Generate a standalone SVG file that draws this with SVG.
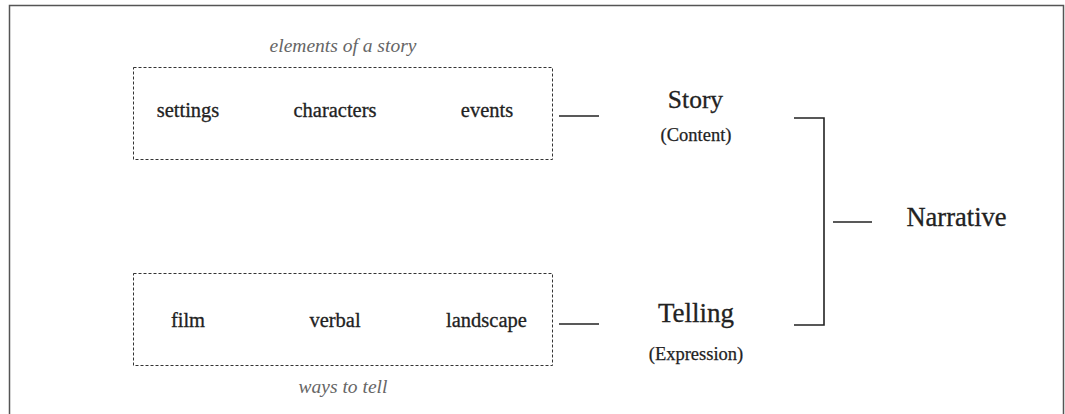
<svg xmlns="http://www.w3.org/2000/svg" width="1065" height="414" viewBox="0 0 1065 414">
  <style>
    .frame { fill: none; stroke: #555; stroke-width: 1.5; }
    .group { fill: none; stroke: #333; stroke-width: 1; stroke-dasharray: 3 2; }
    .link { fill: none; stroke: #222; stroke-width: 1.6; }
    text { font-family: "Liberation Serif", serif; text-anchor: middle; }
    .item { font-size: 20.5px; fill: #222; stroke: #222; stroke-width: 0.3; }
    .caption { font-style: italic; font-size: 19.5px; fill: #666; }
    .title { font-size: 26.5px; fill: #222; stroke: #222; stroke-width: 0.3; }
    .sub { font-size: 18.5px; fill: #222; stroke: #222; stroke-width: 0.25; }
  </style>
  <rect width="1065" height="414" fill="#fff"/>
  <path class="frame" d="M9.5 420 V5.5 H1063.5 V420"/>

  <g id="elements">
    <text class="caption" x="343" y="52">elements of a story</text>
    <rect class="group" x="133.5" y="67.5" width="419" height="92"/>
    <text class="item" x="188" y="117">settings</text>
    <text class="item" x="335" y="117">characters</text>
    <text class="item" x="487" y="117">events</text>
  </g>

  <g id="ways">
    <rect class="group" x="133.5" y="273.5" width="419" height="92"/>
    <text class="item" x="188" y="327">film</text>
    <text class="item" x="335" y="327">verbal</text>
    <text class="item" x="486.5" y="327">landscape</text>
    <text class="caption" x="343" y="393">ways to tell</text>
  </g>

  <g id="story">
    <text class="title" x="695.5" y="108" style="font-size:25.5px">Story</text>
    <text class="sub" x="696" y="141">(Content)</text>
  </g>

  <g id="telling">
    <text class="title" x="696" y="322" style="font-size:27px">Telling</text>
    <text class="sub" x="696" y="360">(Expression)</text>
  </g>

  <g id="narrative">
    <text class="title" x="956.5" y="226">Narrative</text>
  </g>

  <g id="connectors">
    <line class="link" x1="559" y1="116" x2="599" y2="116"/>
    <line class="link" x1="559" y1="324" x2="599" y2="324"/>
    <path class="link" d="M794 118 H824 V325 H794"/>
    <line class="link" x1="833" y1="222" x2="872" y2="222"/>
  </g>
</svg>
